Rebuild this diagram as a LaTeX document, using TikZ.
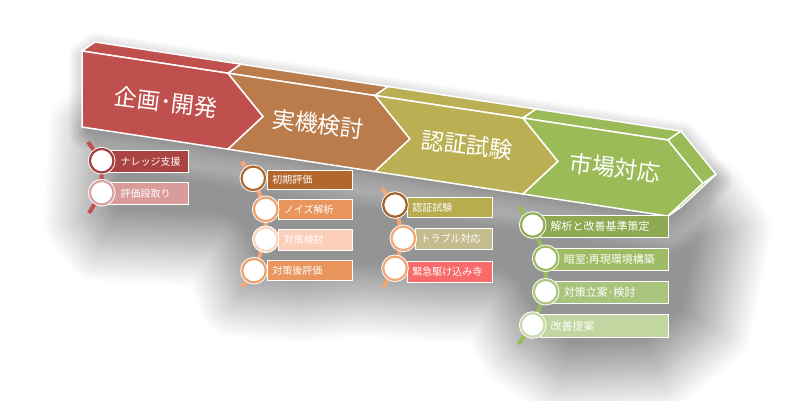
\documentclass[tikz,border=0pt]{standalone}
\usepackage{fontspec}
\setmainfont{Noto Sans CJK JP}
\usetikzlibrary{shadows.blur}

\definecolor{cRed}{HTML}{C0504D}
\definecolor{cBrown}{HTML}{BA7C4B}
\definecolor{cOlive}{HTML}{BAB053}
\definecolor{cGreen}{HTML}{9BBB59}
\definecolor{lnOrange}{HTML}{F3A676}
\definecolor{boxA1}{HTML}{A94442}\definecolor{ringA1}{HTML}{A33F3F}
\definecolor{boxA2}{HTML}{D99C9B}\definecolor{ringA2}{HTML}{D9A3A3}
\definecolor{boxB1}{HTML}{B3672D}\definecolor{ringB1}{HTML}{B06A30}
\definecolor{boxB2}{HTML}{E9965E}\definecolor{ringB2}{HTML}{F0A06A}
\definecolor{boxB3}{HTML}{FBCFB9}\definecolor{ringB3}{HTML}{FCD6C2}
\definecolor{boxB4}{HTML}{E9965E}\definecolor{ringB4}{HTML}{EFA06A}
\definecolor{boxC1}{HTML}{B7AC4E}\definecolor{ringC1}{HTML}{A5632C}
\definecolor{boxC2}{HTML}{C4BB8F}\definecolor{ringC2}{HTML}{F2A874}
\definecolor{boxC3}{HTML}{F96B6B}\definecolor{ringC3}{HTML}{F2A874}
\definecolor{boxE1}{HTML}{8DAA52}\definecolor{ringE1}{HTML}{8FAE55}
\definecolor{boxE2}{HTML}{9EBC63}\definecolor{ringE2}{HTML}{9EBC63}
\definecolor{boxE3}{HTML}{A9C57D}\definecolor{ringE3}{HTML}{ADC782}
\definecolor{boxE4}{HTML}{C2D6A1}\definecolor{ringE4}{HTML}{C8DBA8}

\newcommand{\tY}[1]{(51+0.152*(#1-82))}
\newcommand{\segm}[4]{%
\draw[fill=#4, draw=white, line width=1.5pt] (#1,{\tY{#1}}) -- (#1+13,{\tY{#1}-9}) -- (#2+13,{\tY{#2}-9}) -- (#2,{\tY{#2}}) -- cycle;
\draw[fill=#4, draw=white, line width=1.5pt] (#1,{\tY{#1}}) -- (#2,{\tY{#2}}) -- (#2+35,{\tY{#2+35}+38}) -- (#2,{\tY{#2}+76}) -- (#1,{\tY{#1}+76}) -- (#1+#3,{\tY{#1+#3}+38}) -- cycle;}

\begin{document}
\begin{tikzpicture}[x=1pt, y=-1pt,
  phasetext/.style={text=white, font=\fontsize{23}{23}\selectfont, rotate=-7},
  dot/.style={circle, fill=white, line width=2.2pt, minimum size=23.5pt, inner sep=0pt, preaction={draw=white, line width=4pt}},
  taskbox/.style={draw=white, line width=1.2pt, anchor=north west, inner xsep=0pt, inner ysep=0pt, text=white, align=left, font=\fontsize{10}{12}\selectfont},
  tline/.style={line width=4pt}]
\useasboundingbox (0,0) rectangle (809,400);
\path[blur shadow={shadow xshift=0pt, shadow yshift=0pt, shadow blur radius=38pt, shadow blur steps=24, shadow opacity=42}]
  (85,128) -- (668,216) -- (710,195) -- (735,230) -- (715,330) -- (660,375) -- (560,380) -- (515,350) -- (490,305)
  -- (440,305) -- (360,300) -- (300,305) -- (235,300) -- (215,250) -- (100,245) -- (80,220) -- cycle;
\path[blur shadow={shadow xshift=2pt, shadow yshift=-6pt, shadow blur radius=16pt, shadow blur steps=14, shadow opacity=40}]
  (82,51) -- (95,42) -- (681,131) -- (716,174) -- (681,207) -- (668,216) -- (82,127) -- cycle;

\segm{82}{228}{0}{cRed}
\segm{228}{375}{35}{cBrown}
\segm{375}{523}{35}{cOlive}
\segm{523}{668}{35}{cGreen}
\draw[fill=cGreen, draw=white, line width=1.5pt] (668,{\tY{668}}) -- (681,{\tY{668}-9}) -- (716,{\tY{703}+29}) -- (703,{\tY{703}+38}) -- cycle;
\draw[fill=cGreen, draw=white, line width=1.5pt] (703,{\tY{703}+38}) -- (716,{\tY{703}+29}) -- (681,{\tY{668}+67}) -- (668,{\tY{668}+76}) -- cycle;

\node[phasetext] (p1) at (166,102) {企画･開発};
\node[phasetext] (p2) at (318,124) {実機検討};
\node[phasetext] (p3) at (467,145) {認証試験};
\node[phasetext] (p4) at (615,168) {市場対応};

\coordinate (a0) at (88,142);
\coordinate (a1) at (101.7,160.7);
\coordinate (a2) at (101.7,192.7);
\coordinate (a3) at (89,213);
\draw[tline, cRed] (a0) -- (a1) -- (a2) -- (a3);
\node[taskbox, fill=boxA1, text width=80pt, minimum height=21.5pt] (ta1) at (108,150) {\hspace*{12pt}ナレッジ支援};
\node[taskbox, fill=boxA2, text width=80pt, minimum height=21.5pt] (ta2) at (108,182) {\hspace*{12pt}評価段取り};
\node[dot, draw=ringA1] (da1) at (a1) {};
\node[dot, draw=ringA2] (da2) at (a2) {};

\coordinate (b0) at (241.7,161.7);
\coordinate (b1) at (253.3,178.3);
\coordinate (b2) at (265.7,209.3);
\coordinate (b3) at (265.7,239.3);
\coordinate (b4) at (254,270.7);
\coordinate (b5) at (242.3,286.7);
\draw[tline, lnOrange] (b0) -- (b1) -- (b2) -- (b3) -- (b4) -- (b5);
\node[taskbox, fill=boxB1, text width=85pt, minimum height=19.5pt] (tb1) at (267,169.5) {\hspace*{4.7pt}初期評価};
\node[taskbox, fill=boxB2, text width=74pt, minimum height=20.5pt] (tb2) at (278,198.5) {\hspace*{5.3pt}ノイズ解析};
\node[taskbox, fill=boxB3, text width=74pt, minimum height=21pt] (tb3) at (278,228.5) {\hspace*{5.3pt}対策検討};
\node[taskbox, fill=boxB4, text width=85pt, minimum height=20pt] (tb4) at (267,260) {\hspace*{4.7pt}対策後評価};
\node[dot, draw=ringB1] (db1) at (b1) {};
\node[dot, draw=ringB2] (db2) at (b2) {};
\node[dot, draw=ringB3] (db3) at (b3) {};
\node[dot, draw=ringB4] (db4) at (b4) {};

\coordinate (c0) at (381.7,188.3);
\coordinate (c1) at (395,205);
\coordinate (c2) at (403.3,238.3);
\coordinate (c3) at (395,268.3);
\coordinate (c4) at (383.3,287.3);
\draw[tline, lnOrange] (c0) -- (c1) -- (c2) -- (c3) -- (c4);
\node[taskbox, fill=boxC1, text width=85pt, minimum height=20pt] (tc1) at (407,197) {\hspace*{4.7pt}認証試験};
\node[taskbox, fill=boxC2, text width=77pt, minimum height=21pt] (tc2) at (415,228) {\hspace*{5pt}トラブル対応};
\node[taskbox, fill=boxC3, text width=85pt, minimum height=21pt] (tc3) at (407,260.5) {\hspace*{4.7pt}緊急駆け込み寺};
\node[dot, draw=ringC1] (dc1) at (c1) {};
\node[dot, draw=ringC2] (dc2) at (c2) {};
\node[dot, draw=ringC3] (dc3) at (c3) {};

\coordinate (e0) at (518.3,206.7);
\coordinate (e1) at (532.7,225);
\coordinate (e2) at (545.7,258.3);
\coordinate (e3) at (545.7,291.7);
\coordinate (e4) at (532.7,325);
\coordinate (e5) at (518.3,344);
\draw[tline, cGreen] (e0) -- (e1) -- (e2) -- (e3) -- (e4) -- (e5);
\node[taskbox, font=\fontsize{11}{13}\selectfont, fill=boxE1, text width=128pt, minimum height=22pt] (te1) at (540,215) {\hspace*{10pt}解析と改善基準策定};
\node[taskbox, font=\fontsize{11}{13}\selectfont, fill=boxE2, text width=116pt, minimum height=22.5pt] (te2) at (552,247.5) {\hspace*{11.3pt}暗室:再現環境構築};
\node[taskbox, font=\fontsize{11}{13}\selectfont, fill=boxE3, text width=116pt, minimum height=22pt] (te3) at (552,281) {\hspace*{11.3pt}対策立案･検討};
\node[taskbox, font=\fontsize{11}{13}\selectfont, fill=boxE4, text width=128pt, minimum height=22.5pt] (te4) at (540,314) {\hspace*{10pt}改善提案};
\node[dot, draw=ringE1] (de1) at (e1) {};
\node[dot, draw=ringE2] (de2) at (e2) {};
\node[dot, draw=ringE3] (de3) at (e3) {};
\node[dot, draw=ringE4] (de4) at (e4) {};
\end{tikzpicture}
\end{document}
